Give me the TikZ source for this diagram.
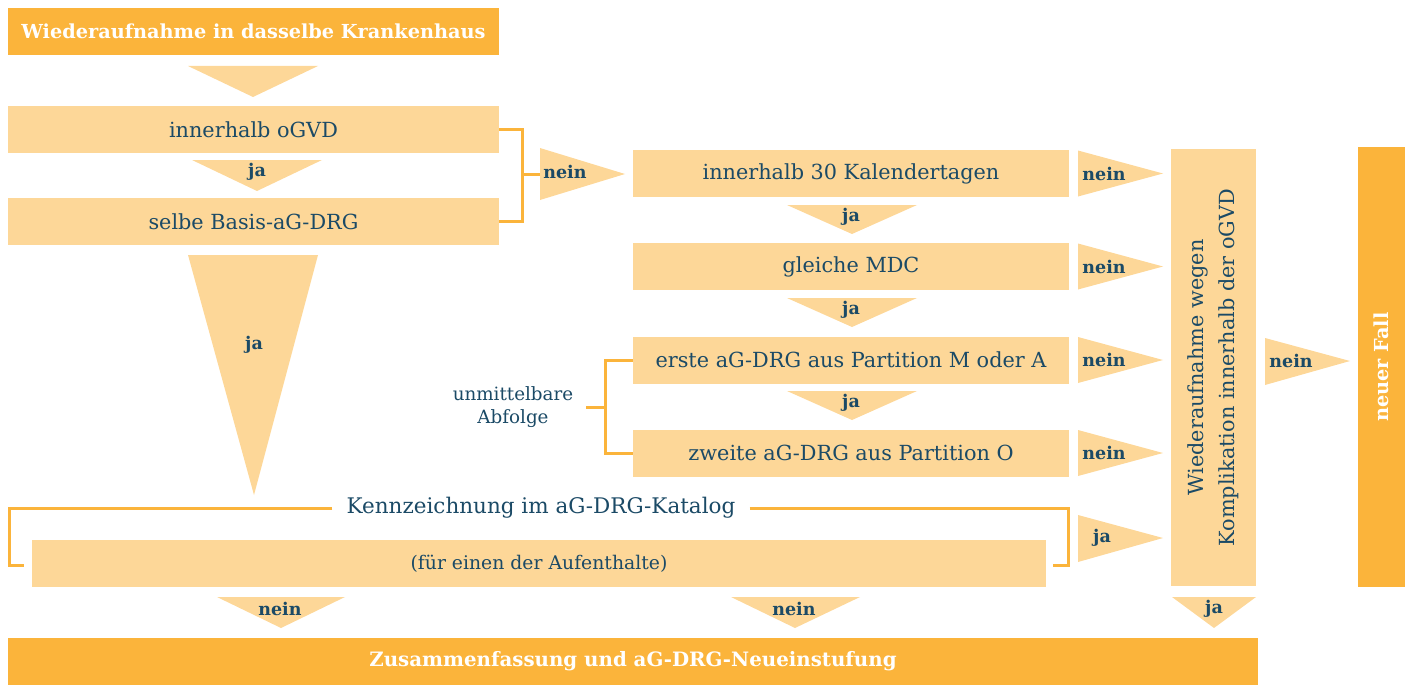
\documentclass[tikz,border=0pt]{standalone}
\usepackage{fontspec}
\setmainfont{DejaVu Serif}
\definecolor{dorange}{HTML}{FBB43B}
\definecolor{lorange}{HTML}{FDD798}
\definecolor{txt}{HTML}{1B4A66}
\begin{document}
\begin{tikzpicture}[x=1pt,y=-1pt,
  lbox/.style={fill=lorange, text=txt, inner sep=0pt, font=\fontsize{20.8}{25}\selectfont},
  dbox/.style={fill=dorange, text=white, inner sep=0pt, font=\fontsize{19.3}{23}\selectfont\bfseries},
  plain/.style={text=txt, inner sep=0pt, font=\fontsize{21.5}{25}\selectfont},
  tri/.style={fill=lorange},
  tlab/.style={text=txt, inner sep=0pt, font=\fontsize{17.5}{21}\selectfont\bfseries},
  br/.style={draw=dorange, line width=3pt}]
\useasboundingbox (0,0) rectangle (1413,685);

% boxes
\node[dbox, minimum width=491pt, minimum height=47pt] (top) at (253.5,31.5) {Wiederaufnahme in dasselbe Krankenhaus};
\node[lbox, minimum width=491pt, minimum height=47pt] (b1) at (253.5,129.5) {innerhalb oGVD};
\node[lbox, minimum width=491pt, minimum height=47pt] (b2) at (253.5,221.5) {selbe Basis-aG-DRG};
\node[lbox, minimum width=436pt, minimum height=47pt] (c1) at (851,173.5) {innerhalb 30 Kalendertagen};
\node[lbox, minimum width=436pt, minimum height=47pt] (c2) at (851,266.5) {gleiche MDC};
\node[lbox, minimum width=436pt, minimum height=47pt] (c3) at (851,360) {erste aG-DRG aus Partition M oder A};
\node[lbox, minimum width=436pt, minimum height=47pt] (c4) at (851,453) {zweite aG-DRG aus Partition O};
\node[lbox, rotate=90, minimum width=437pt, minimum height=85pt, align=center, font=\fontsize{20.8}{31}\selectfont] (w) at (1213.5,367.5) {Wiederaufnahme wegen\\Komplikation innerhalb der oGVD};
\node[dbox, rotate=90, minimum width=440pt, minimum height=47pt] (nf) at (1381.5,367) {neuer Fall};
\node[lbox, minimum width=1014pt, minimum height=47pt, font=\fontsize{18.8}{22}\selectfont] (kb) at (539,563.5) {(für einen der Aufenthalte)};
\node[plain, inner xsep=14pt] (kz) at (541,508) {Kennzeichnung im aG-DRG-Katalog};
\node[dbox, minimum width=1250pt, minimum height=47pt, font=\fontsize{19.8}{23}\selectfont\bfseries] (zf) at (633,661.5) {Zusammenfassung und aG-DRG-Neueinstufung};
\node[plain, align=center, font=\fontsize{18.3}{22.5}\selectfont] (ab) at (513,407) {unmittelbare\\Abfolge};

% triangles
\fill[tri] (188,66) -- (318,66) -- (253,97) -- cycle;
\fill[tri] (192,160) -- (322,160) -- (257,191) -- cycle;
\node[tlab] (l1) at (257,172) {ja};
\fill[tri] (188,255) -- (318,255) -- (254,495) -- cycle;
\node[tlab] (l2) at (254,345) {ja};
\fill[tri] (540,148) -- (540,200) -- (625,174) -- cycle;
\node[tlab] (l3) at (565,172) {nein};
\foreach \y/\n in {205/a,298/b,391/c}{
  \fill[tri] (787,\y) -- (917,\y) -- (852,\y+29) -- cycle;
  \node[tlab] (cj\n) at (851,\y+12) {ja};
}
\foreach \y/\n in {173.5/a,266.5/b,360/c,453/d}{
  \fill[tri] (1078,\y-23) -- (1078,\y+23) -- (1163,\y) -- cycle;
  \node[tlab] (rn\n) at (1104,\y) {nein};
}
\fill[tri] (1078,515) -- (1078,562) -- (1163,538) -- cycle;
\node[tlab] (rj) at (1102,538) {ja};
\fill[tri] (1265,338) -- (1265,385) -- (1350,361) -- cycle;
\node[tlab] (nn) at (1291,361) {nein};
\fill[tri] (217,597) -- (345,597) -- (281,628) -- cycle;
\node[tlab] (bn1) at (280,609) {nein};
\fill[tri] (731,597) -- (860,597) -- (795,628) -- cycle;
\node[tlab] (bn2) at (794,609) {nein};
\fill[tri] (1172,597) -- (1256,597) -- (1214,628) -- cycle;
\node[tlab] (bj) at (1214,609) {ja};

% brackets
\coordinate (brA) at (522,174);
\coordinate (brAt) at (540,174);
\draw[br] (b1.east) -| (brA) |- (b2.east);
\draw[br] (brA) -- (brAt);
\coordinate (abf) at (605,407);
\coordinate (abt) at (586,407);
\draw[br] (c3.west) -| (abf) |- (c4.west);
\draw[br] (abf) -- (abt);
\coordinate (kzL) at (9.5,565);
\coordinate (kzLe) at (24,565);
\draw[br] (kz.west) -| (kzL) -- (kzLe);
\coordinate (kzR) at (1068,565);
\coordinate (kzRe) at (1053,565);
\draw[br] (kz.east) -| (kzR) -- (kzRe);
\end{tikzpicture}
\end{document}
